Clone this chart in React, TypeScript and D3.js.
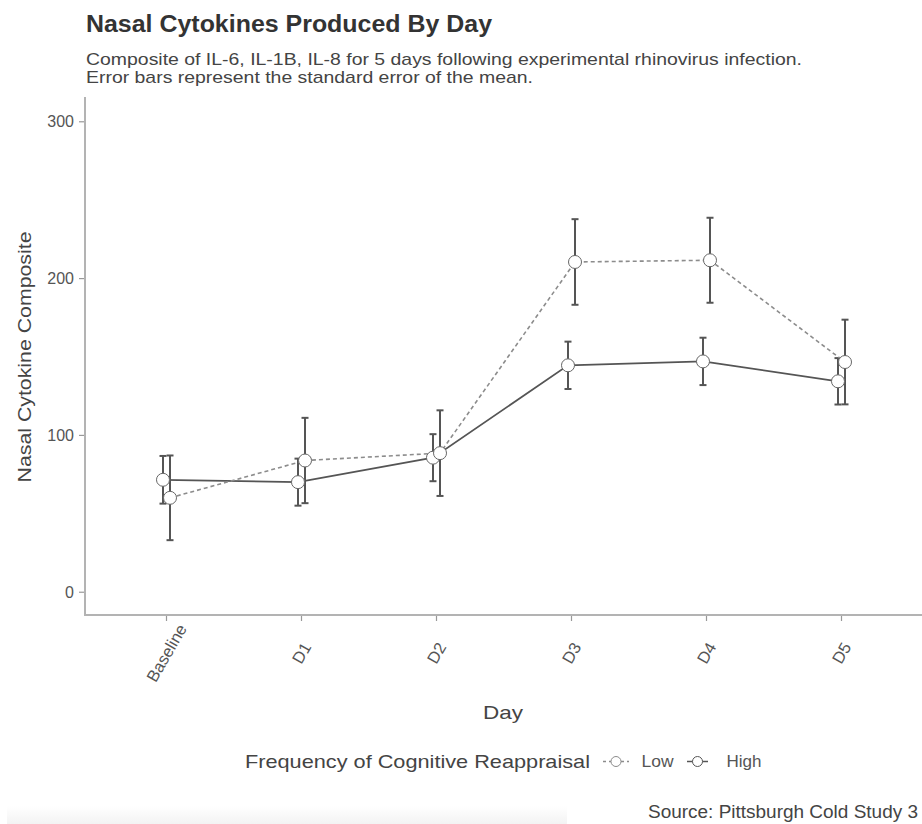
import * as d3 from 'd3';
import React from 'react';

const days = ['Baseline', 'D1', 'D2', 'D3', 'D4', 'D5'];
const lowMean = [60.2, 84.0, 88.7, 210.6, 211.7, 146.8];
const lowSE = [27.0, 27.2, 27.3, 27.3, 27.1, 27.0];
const highMean = [71.7, 70.2, 85.8, 144.7, 147.2, 134.5];
const highSE = [15.2, 15.0, 15.0, 15.1, 15.1, 14.8];
const yTicks = [0, 100, 200, 300];

const W = 922;
const H = 824;
const font = '"Liberation Sans", Arial, Helvetica, sans-serif';

// the reference font is a little wider than Liberation Sans, so widths are pinned
function T({ len, children, ...rest }) {
  return (
    <text textLength={len} lengthAdjust="spacingAndGlyphs" {...rest}>{children}</text>
  );
}

function App() {
  const x = d3.scalePoint<string>().domain(days).range([85.5, 922.5]).padding(0.6);
  const y = d3.scaleLinear().domain([-14.2, 315.8]).range([614.5, 97]);
  const dodge = x.step() * 0.026;

  const series = [
    { name: 'High', mean: highMean, se: highSE, off: -dodge, stroke: '#555', dash: null, lw: 1.8 },
    { name: 'Low', mean: lowMean, se: lowSE, off: dodge, stroke: '#8c8c8c', dash: '4,3', lw: 1.6 },
  ];

  const line = (s) =>
    d3.line<number>()
      .x((d, i) => x(days[i]) + s.off)
      .y((d) => y(d))(s.mean);

  const capW = 3.5;

  return (
    <div style={{ position: 'absolute', left: 0, top: 0 }}>
      <svg width={W} height={H} style={{ display: 'block', background: '#fff' }} fontFamily={font}>
        <defs>
          <linearGradient id="shade" x1="0" y1="0" x2="0" y2="1">
            <stop offset="0" stopColor="#fff" />
            <stop offset="1" stopColor="#f3f3f3" />
          </linearGradient>
        </defs>
        <rect x={7} y={806} width={560} height={18} fill="url(#shade)" />

        {/* titles */}
        <T len={406} x={86} y={31.5} fontSize={23.5} fontWeight="bold" fill="#333">Nasal Cytokines Produced By Day</T>
        <T len={716} x={86} y={65} fontSize={17} fill="#444">Composite of IL-6, IL-1B, IL-8 for 5 days following experimental rhinovirus infection.</T>
        <T len={447} x={86} y={82.5} fontSize={17} fill="#444">Error bars represent the standard error of the mean.</T>

        {/* axes */}
        <line x1={85} x2={85} y1={97} y2={615} stroke="#b3b3b3" strokeWidth={2} />
        <line x1={84} x2={W} y1={615} y2={615} stroke="#b3b3b3" strokeWidth={2} />
        {yTicks.map((t) => (
          <g key={t}>
            <line x1={79} x2={84} y1={y(t)} y2={y(t)} stroke="#999" strokeWidth={1.2} />
            <text x={74} y={y(t)} dy="0.35em" textAnchor="end" fontSize={16} fill="#555">{t}</text>
          </g>
        ))}
        {days.map((d) => (
          <g key={d}>
            <line x1={x(d)} x2={x(d)} y1={616} y2={621} stroke="#999" strokeWidth={1.2} />
            <text
              transform={`translate(${x(d)},653) rotate(-60)`}
              textAnchor="middle"
              dy="0.35em"
              fontSize={16.5}
              fill="#555"
            >{d}</text>
          </g>
        ))}
        <T len={251} transform="translate(31,357) rotate(-90)" textAnchor="middle" fontSize={19} fill="#444">Nasal Cytokine Composite</T>
        <T len={40} x={503} y={719} textAnchor="middle" fontSize={19} fill="#444">Day</T>

        {/* error bars */}
        {series.map((s) => (
          <g key={s.name + 'err'} stroke="#555" strokeWidth={2}>
            {s.mean.map((m, i) => {
              const cx = x(days[i]) + s.off;
              const top = y(m + s.se[i]);
              const bot = y(m - s.se[i]);
              return (
                <g key={i}>
                  <line x1={cx} x2={cx} y1={top} y2={bot} />
                  <line x1={cx - capW} x2={cx + capW} y1={top} y2={top} />
                  <line x1={cx - capW} x2={cx + capW} y1={bot} y2={bot} />
                </g>
              );
            })}
          </g>
        ))}

        {/* lines */}
        {series.map((s) => (
          <path key={s.name + 'line'} d={line(s)} fill="none" stroke={s.stroke} strokeWidth={s.lw} strokeDasharray={s.dash || undefined} />
        ))}

        {/* points */}
        {series.map((s) => (
          <g key={s.name + 'pts'}>
            {s.mean.map((m, i) => (
              <circle key={i} cx={x(days[i]) + s.off} cy={y(m)} r={6.5} fill="#fff" stroke="#666" strokeWidth={1} />
            ))}
          </g>
        ))}

        {/* legend */}
        <T len={345} x={245} y={768} fontSize={18.5} fill="#444">Frequency of Cognitive Reappraisal</T>
        <line x1={603} x2={629} y1={761.5} y2={761.5} stroke="#8c8c8c" strokeWidth={1.4} strokeDasharray="3,3" />
        <circle cx={616} cy={761.5} r={5} fill="#fff" stroke="#8c8c8c" strokeWidth={1} />
        <T len={32} x={641.5} y={767} fontSize={16} fill="#555">Low</T>
        <line x1={687} x2={708} y1={761.5} y2={761.5} stroke="#555" strokeWidth={1.5} />
        <circle cx={697.5} cy={761.5} r={5} fill="#fff" stroke="#555" strokeWidth={1} />
        <T len={35} x={726.5} y={767} fontSize={16} fill="#555">High</T>

        <T len={270} x={918} y={818} textAnchor="end" fontSize={17.5} fill="#444">Source: Pittsburgh Cold Study 3</T>
      </svg>
    </div>
  );
}

export default App;
